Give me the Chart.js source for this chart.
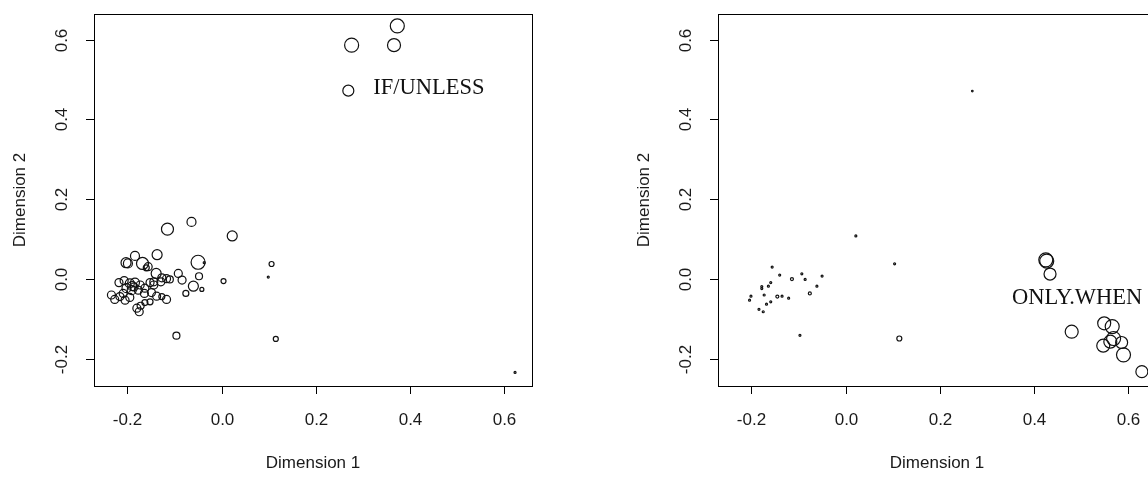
<!DOCTYPE html>
<html>
<head>
<meta charset="utf-8">
<script src="https://cdn.jsdelivr.net/npm/chart.js@4/dist/chart.umd.min.js"></script>
<style>
  html, body { margin: 0; padding: 0; background: #fff; overflow: hidden; width: 1148px; height: 477px; }
  #leftPanel { position: absolute; left: 0; top: 0; }
  #rightPanel { position: absolute; left: 624px; top: 0; }
</style>
</head>
<body>
<canvas id="leftPanel" width="574" height="477"></canvas>
<canvas id="rightPanel" width="574" height="477"></canvas>
<script>
// Left panel (IF/UNLESS) - coordinates on dimension 1 / dimension 2, plus bubble weight
const leftDim1 = [0.276, 0.373, 0.366, 0.269,
    -0.115, -0.064, 0.0225, -0.137, -0.184, -0.203, -0.199, -0.168, -0.156, -0.160, -0.050, -0.037,
    0.106, 0.099, 0.004, -0.092, -0.084, -0.048, -0.060, -0.042, -0.076, -0.096, 0.115, 0.623,
    -0.139, -0.127, -0.117, -0.110, -0.144, -0.152, -0.129, -0.218, -0.207, -0.195, -0.184, -0.173,
    -0.202, -0.191, -0.177, -0.163, -0.144, -0.164, -0.149, -0.209, -0.234, -0.227, -0.216, -0.205,
    -0.195, -0.138, -0.127, -0.117, -0.163, -0.152, -0.172, -0.180, -0.175, -0.186, -0.190];
const leftDim2 = [0.586, 0.634, 0.586, 0.472,
    0.125, 0.143, 0.108, 0.061, 0.058, 0.041, 0.039, 0.039, 0.031, 0.028, 0.042, 0.041,
    0.0376, 0.005, -0.005, 0.014, -0.0025, 0.007, -0.018, -0.026, -0.036, -0.142, -0.150, -0.234,
    0.014, 0.003, 0.001, -0.001, -0.007, -0.009, -0.007, -0.009, -0.004, -0.011, -0.009, -0.015,
    -0.023, -0.028, -0.028, -0.023, -0.015, -0.036, -0.034, -0.036, -0.040, -0.051, -0.044, -0.053,
    -0.046, -0.043, -0.044, -0.051, -0.059, -0.057, -0.067, -0.073, -0.082, -0.020, -0.018];
const leftWeight = [7, 7, 6.5, 5.5,
    6, 4.5, 5, 5, 4.5, 5, 4.5, 6, 4, 3, 7, 1,
    2.5, 1, 2.5, 4, 4, 3.5, 5, 2, 3, 3.5, 2.5, 1,
    5, 4, 4, 3.5, 4, 4, 4, 4, 4, 4.5, 4.5, 4,
    4.5, 4.5, 4, 4, 4, 4, 4, 4, 4, 4, 4, 4,
    4, 4, 3, 4, 3, 3, 3.5, 4, 4, 4, 4.5];

// Right panel (ONLY.WHEN)
const rightDim1 = [0.0217, 0.104, -0.156, -0.140, -0.093, -0.114, -0.086, -0.050, -0.159, -0.164,
    -0.178, -0.178, -0.061, -0.173, -0.076, -0.201, -0.204, -0.145, -0.135, -0.121,
    -0.159, -0.168, -0.184, -0.175, -0.097, 0.269,
    0.114, 0.425, 0.427, 0.434, 0.480, 0.549, 0.566, 0.569, 0.562, 0.547, 0.586, 0.590, 0.629];
const rightDim2 = [0.108, 0.038, 0.030, 0.010, 0.013, 0.000, -0.001, 0.0075, -0.009, -0.018,
    -0.019, -0.024, -0.018, -0.040, -0.036, -0.043, -0.053, -0.044, -0.043, -0.048,
    -0.057, -0.063, -0.076, -0.082, -0.141, 0.471,
    -0.149, 0.048, 0.045, 0.0125, -0.132, -0.111, -0.119, -0.149, -0.157, -0.167, -0.159, -0.190, -0.232];
const rightWeight = [1, 1, 1, 1, 1, 1.5, 1, 1, 1, 1,
    1, 1, 1, 1, 1.5, 1, 1, 1.5, 1, 1,
    1, 1, 1, 1, 1, 0.8,
    2.5, 7, 7, 6, 6.5, 6.5, 7, 7, 6.5, 6.5, 6, 7, 6];

const tickValues = [-0.2, 0.0, 0.2, 0.4, 0.6];
const tickLabels = ['-0.2', '0.0', '0.2', '0.4', '0.6'];
const xTitle = 'Dimension 1';
const yTitle = 'Dimension 2';

const RADIUS_PER_WEIGHT = 1;

// R-style box, outside ticks, rotated y labels and the group label
const rFrame = {
    id: 'rFrame',
    afterDraw(chart, args, opts) {
        const { ctx, chartArea: a, scales: { x, y } } = chart;
        ctx.save();
        ctx.strokeStyle = '#000';
        ctx.lineWidth = 1;
        ctx.strokeRect(Math.round(a.left) + 0.5, Math.round(a.top) + 0.5,
            Math.round(a.right - a.left), Math.round(a.bottom - a.top));

        ctx.fillStyle = '#1a1a1a';
        ctx.font = '17px "Liberation Sans", Arial, sans-serif';
        tickValues.forEach((v, i) => {
            const px = Math.round(x.getPixelForValue(v)) + 0.5;
            ctx.beginPath();
            ctx.moveTo(px, a.bottom);
            ctx.lineTo(px, a.bottom + 8);
            ctx.stroke();
            ctx.textAlign = 'center';
            ctx.textBaseline = 'middle';
            ctx.fillText(tickLabels[i], px, a.bottom + 34);

            const py = Math.round(y.getPixelForValue(v)) + 0.5;
            ctx.beginPath();
            ctx.moveTo(a.left, py);
            ctx.lineTo(a.left - 8, py);
            ctx.stroke();
            ctx.save();
            ctx.translate(a.left - 32, py);
            ctx.rotate(-Math.PI / 2);
            ctx.fillText(tickLabels[i], 0, 0);
            ctx.restore();
        });

        ctx.textAlign = 'center';
        ctx.textBaseline = 'middle';
        ctx.fillText(xTitle, (a.left + a.right) / 2, a.bottom + 77);
        ctx.save();
        ctx.translate(a.left - 74, (a.top + a.bottom) / 2);
        ctx.rotate(-Math.PI / 2);
        ctx.fillText(yTitle, 0, 0);
        ctx.restore();

        if (opts.label) {
            ctx.fillStyle = '#111';
            ctx.font = '22.5px "Liberation Serif", "Times New Roman", serif';
            ctx.fillText(opts.label.text, x.getPixelForValue(opts.label.x), y.getPixelForValue(opts.label.y));
        }
        ctx.restore();
    }
};

function makePanel(canvasId, dim1, dim2, weight, label) {
    const points = dim1.map((v, i) => ({ x: v, y: dim2[i] }));
    return new Chart(document.getElementById(canvasId).getContext('2d'), {
        type: 'scatter',
        data: {
            datasets: [{
                data: points,
                pointRadius: weight.map(w => w * RADIUS_PER_WEIGHT),
                pointBorderWidth: 1.2,
                pointBorderColor: '#111',
                pointBackgroundColor: 'rgba(0,0,0,0)',
                clip: false
            }]
        },
        options: {
            responsive: false,
            animation: false,
            events: [],
            layout: { padding: { left: 94, right: 42, top: 14, bottom: 91 } },
            scales: {
                x: { type: 'linear', min: -0.271, max: 0.659, display: false },
                y: { type: 'linear', min: -0.268, max: 0.664, display: false }
            },
            plugins: {
                legend: { display: false },
                tooltip: { enabled: false },
                rFrame: { label: label }
            }
        },
        plugins: [rFrame]
    });
}

makePanel('leftPanel', leftDim1, leftDim2, leftWeight, { text: 'IF/UNLESS', x: 0.44, y: 0.479 });
makePanel('rightPanel', rightDim1, rightDim2, rightWeight, { text: 'ONLY.WHEN', x: 0.4915, y: -0.048 });
</script>
</body>
</html>
